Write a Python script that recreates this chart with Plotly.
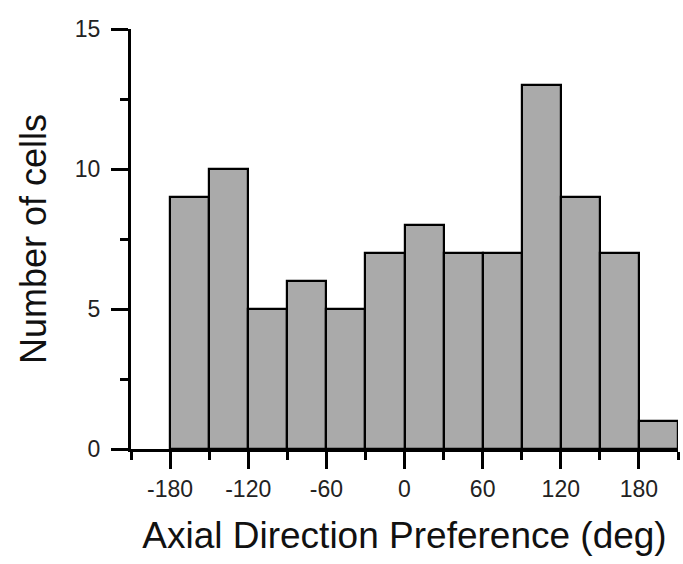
import plotly.graph_objects as go

bin_starts = [-180, -150, -120, -90, -60, -30, 0, 30, 60, 90, 120, 150, 180]
counts = [9, 10, 5, 6, 5, 7, 8, 7, 7, 13, 9, 7, 1]
bin_width = 30
x_tickvals = [-180, -120, -60, 0, 60, 120, 180]
x_ticktext = ["-180", "-120", "-60", "0", "60", "120", "180"]
y_tickvals = [0, 5, 10, 15]

FONT = "Liberation Sans, Arial, sans-serif"

fig = go.Figure(go.Bar(
    x=bin_starts, y=counts, width=bin_width, offset=0,
    marker=dict(color="#aaaaaa", line=dict(color="black", width=2.2)),
))

fig.update_layout(
    width=683, height=564,
    margin=dict(l=131, r=5, t=29, b=115),
    plot_bgcolor="white", paper_bgcolor="white",
    showlegend=False, bargap=0,
    font=dict(family=FONT, color="#222"),
)
fig.update_xaxes(
    range=[-210, 210], tickvals=x_tickvals, ticktext=x_ticktext, ticks="outside", ticklen=17, tickwidth=2.5,
    tickcolor="black", showline=True, linecolor="black", linewidth=3,
    showgrid=False, zeroline=False, tickfont=dict(size=23, family=FONT, color="#222"),
    ticklabelstandoff=0,
    minor=dict(dtick=30, tick0=-210, ticks="outside", ticklen=8, tickwidth=2.5, tickcolor="black"),
    title=dict(text="Axial Direction Preference (deg)", font=dict(size=37, family=FONT, color="#111"), standoff=22),
)
fig.update_yaxes(
    range=[0, 15], tickvals=y_tickvals, ticks="outside", ticklen=17, tickwidth=2.5,
    tickcolor="black", showline=True, linecolor="black", linewidth=3,
    showgrid=False, zeroline=False, tickfont=dict(size=23, family=FONT, color="#222"),
    ticklabelstandoff=6,
    minor=dict(dtick=2.5, tick0=0, ticks="outside", ticklen=8, tickwidth=2.5, tickcolor="black"),
    title=dict(text="Number of cells", font=dict(size=36, family=FONT, color="#111"), standoff=18),
)

fig.write_html("out.html")
